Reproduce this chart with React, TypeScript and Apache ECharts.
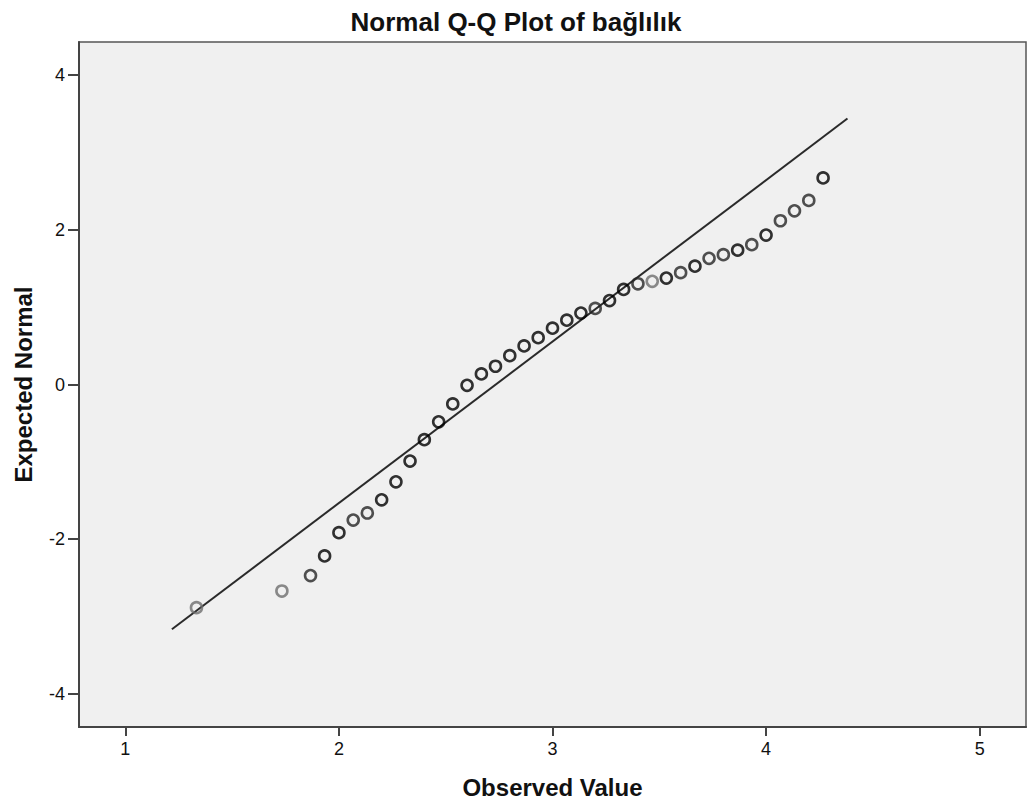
import React, { useEffect, useRef } from "react";
import * as echarts from "echarts";

// Observed values (k/15 steps)
const observed = [
  1.333, 1.733, 1.867, 1.933, 2.0, 2.067, 2.133, 2.2, 2.267, 2.333, 2.4, 2.467, 2.533,
  2.6, 2.667, 2.733, 2.8, 2.867, 2.933, 3.0, 3.067, 3.133, 3.2, 3.267, 3.333, 3.4,
  3.467, 3.533, 3.6, 3.667, 3.733, 3.8, 3.867, 3.933, 4.0, 4.067, 4.133, 4.2, 4.267,
];
// Expected normal values
const expected = [
  -2.887, -2.671, -2.471, -2.218, -1.916, -1.754, -1.662, -1.491, -1.259, -0.991, -0.714,
  -0.482, -0.251, -0.01, 0.137, 0.236, 0.373, 0.499, 0.605, 0.729, 0.832, 0.924, 0.984,
  1.085, 1.229, 1.303, 1.335, 1.377, 1.447, 1.53, 1.632, 1.679, 1.738, 1.808, 1.933,
  2.118, 2.247, 2.381, 2.672,
];
// Overlap weight (how dark the marker is drawn)
const overlap = [
  1, 1, 2, 3, 3, 2, 2, 3, 3, 3, 3, 3, 3, 3, 3, 3, 3, 3, 3, 3, 3, 3, 2, 3, 3, 2, 1, 3, 2,
  3, 2, 2, 3, 2, 3, 2, 2, 2, 3,
];
// Reference line endpoints
const refLineX = [1.218, 4.381];
const refLineY = [-3.166, 3.44];

const xTicks = [1, 2, 3, 4, 5];
const yTicks = [-4, -2, 0, 2, 4];

const FONT = '"Liberation Sans", Arial, sans-serif';

export default function App() {
  const ref = useRef<HTMLDivElement>(null);
  useEffect(() => {
    if (!ref.current) return;
    const chart = echarts.init(ref.current, null, { renderer: "svg" });
    const shade = (c: number) => (c >= 3 ? "#000000" : c === 2 ? "#262626" : "#6e6e6e");
    const pts = observed.map((x, i) => ({
      value: [x, expected[i]],
      itemStyle: { color: "transparent", borderColor: shade(overlap[i]), borderWidth: 2.6 },
    }));
    chart.setOption({
      animation: false,
      backgroundColor: "#ffffff",
      title: {
        text: "Normal Q-Q Plot of bağlılık",
        left: 511,
        textAlign: "center",
        top: 4,
        textStyle: { fontFamily: FONT, fontWeight: "bold", fontSize: 26, color: "#111" },
      },
      grid: {
        left: 79,
        right: 3,
        top: 42,
        bottom: 81,
        show: true,
        backgroundColor: "#f0f0f0",
        borderColor: "#555",
        borderWidth: 1.5,
      },
      xAxis: {
        type: "value",
        min: 0.783,
        max: 5.217,
        name: "Observed Value",
        nameLocation: "middle",
        nameGap: 48,
        nameTextStyle: { fontFamily: FONT, fontWeight: "bold", fontSize: 24, color: "#111" },
        axisLine: { show: true, onZero: false, lineStyle: { color: "#444", width: 2 } },
        axisTick: { show: true, length: 9, customValues: xTicks, lineStyle: { color: "#444", width: 2 } },
        axisLabel: { customValues: xTicks, margin: 13, fontFamily: FONT, fontSize: 18, color: "#111" },
        splitLine: { show: false },
      },
      yAxis: {
        type: "value",
        min: -4.43,
        max: 4.43,
        name: "Expected Normal",
        nameLocation: "middle",
        nameGap: 44,
        nameTextStyle: { fontFamily: FONT, fontWeight: "bold", fontSize: 24, color: "#111" },
        axisLine: { show: true, onZero: false, lineStyle: { color: "#444", width: 2 } },
        axisTick: { show: true, length: 11, customValues: yTicks, lineStyle: { color: "#444", width: 2 } },
        axisLabel: { customValues: yTicks, margin: 14, fontFamily: FONT, fontSize: 18, color: "#111" },
        splitLine: { show: false },
      },
      series: [
        {
          type: "line",
          data: refLineX.map((x, i) => [x, refLineY[i]]),
          symbol: "none",
          lineStyle: { color: "#2a2a2a", width: 2 },
          silent: true,
          z: 1,
        },
        {
          type: "scatter",
          data: pts,
          symbol: "circle",
          symbolSize: 11,
          z: 2,
        },
      ],
    });
    return () => chart.dispose();
  }, []);
  return (
    <div
      ref={ref}
      style={{ position: "absolute", left: 0, top: 0, width: 1029, height: 808 }}
    />
  );
}
